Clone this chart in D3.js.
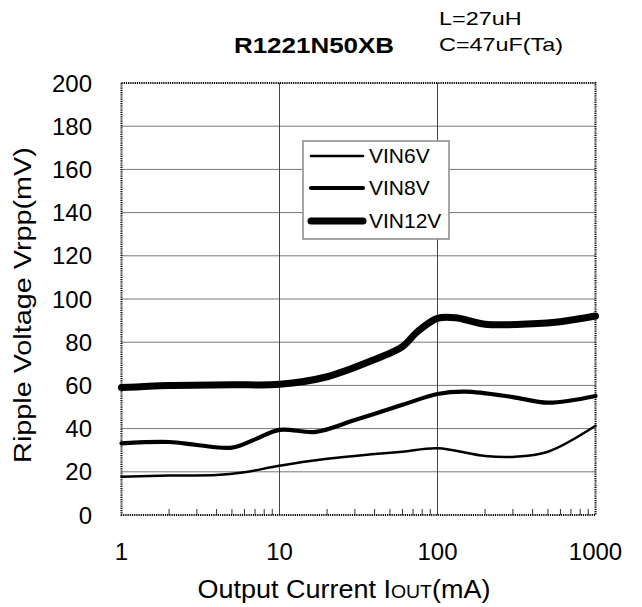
<!DOCTYPE html>
<html><head><meta charset="utf-8">
<script src="https://cdn.jsdelivr.net/npm/d3@7"></script>
<style>
html,body{margin:0;padding:0;background:#fff;}
svg{display:block;font-family:"Liberation Sans",Arial,sans-serif;}
</style></head>
<body><svg id="c" width="642" height="607"></svg>
<script>
// ---- data ----
const xTicks = [1, 10, 100, 1000];
const yTicks = [0, 20, 40, 60, 80, 100, 120, 140, 160, 180, 200];
const seriesNames = ["VIN6V", "VIN8V", "VIN12V"];
const vin6Current = [1, 2, 4, 6, 10, 20, 40, 60, 100, 200, 300, 500, 1000];
const vin6Ripple  = [17.7, 18.3, 18.5, 19.8, 22.8, 26, 28.2, 29.3, 30.9, 27.3, 26.9, 29.3, 41.3];
const vin8Current = [1, 2, 3, 5, 7, 10, 17, 30, 60, 100, 150, 300, 500, 1000];
const vin8Ripple  = [33.2, 33.8, 32.4, 31.2, 35, 39.4, 38.5, 44, 51, 56, 57.1, 54.6, 52, 55.1];
const vin12Current = [1, 2, 5, 10, 20, 40, 60, 75, 100, 130, 200, 400, 600, 1000];
const vin12Ripple  = [59, 60, 60.3, 60.5, 64, 72, 78, 85, 91, 91.3, 88.3, 88.5, 89.5, 92.1];
const title = "R1221N50XB";
const noteLines = ["L=27uH", "C=47uF(Ta)"];

// ---- layout ----
const svg = d3.select("#c");
const X0 = 121.5, X1 = 595.5, Y0 = 515, Y1 = 83;
const x = d3.scaleLog().domain([1, 1000]).range([X0, X1]);
const y = d3.scaleLinear().domain([0, 200]).range([Y0, Y1]);

// horizontal gridlines
svg.append("g").selectAll("line").data(yTicks.filter(d => d > 0 && d < 200)).join("line")
  .attr("x1", X0).attr("x2", X1).attr("y1", d => y(d)).attr("y2", d => y(d))
  .attr("stroke", "#777").attr("stroke-width", 1);
// vertical gridlines
svg.append("g").selectAll("line").data(xTicks.filter(d => d > 1 && d < 1000)).join("line")
  .attr("x1", d => x(d)).attr("x2", d => x(d)).attr("y1", Y1).attr("y2", Y0)
  .attr("stroke", "#444").attr("stroke-width", 1);

// minor ticks on bottom axis
const minor = [];
[1, 10, 100].forEach(dec => { for (let k = 2; k <= 9; k++) minor.push(dec * k); });
svg.append("g").selectAll("line").data(minor).join("line")
  .attr("x1", d => x(d)).attr("x2", d => x(d)).attr("y1", Y0).attr("y2", Y0 - 6)
  .attr("stroke", "#333").attr("stroke-width", 1);

// dotted frame
svg.append("rect").attr("x", X0).attr("y", Y1).attr("width", X1 - X0).attr("height", Y0 - Y1)
  .attr("fill", "none").attr("stroke", "#000").attr("stroke-width", 2).attr("stroke-dasharray", "1.2,1");

// y tick labels
svg.append("g").selectAll("text").data(yTicks).join("text")
  .attr("x", 92).attr("y", d => y(d)).attr("dy", "0.36em").attr("text-anchor", "end")
  .attr("font-size", 24).attr("fill", "#000").text(d => d);
// x tick labels
svg.append("g").selectAll("text").data(xTicks).join("text")
  .attr("x", d => x(d)).attr("y", 560).attr("text-anchor", "middle")
  .attr("font-size", 24).attr("fill", "#000").text(d => d);

// axis titles (source font is wider than Arial: stretch horizontally)
const xt = svg.append("text").attr("transform", "translate(344,598) scale(1.08,1)").attr("text-anchor", "middle")
  .attr("font-size", 25).attr("fill", "#000");
xt.append("tspan").text("Output Current I");
xt.append("tspan").attr("font-size", 18).text("OUT");
xt.append("tspan").text("(mA)");
svg.append("text").attr("transform", "translate(31,305) rotate(-90) scale(1.2,1)").attr("text-anchor", "middle")
  .attr("font-size", 24).attr("fill", "#000").text("Ripple Voltage Vrpp(mV)");

// title & notes
svg.append("text").attr("transform", "translate(314,53) scale(1.18,1)").attr("text-anchor", "middle")
  .attr("font-size", 22).attr("font-weight", "bold").attr("fill", "#000").text(title);
svg.append("g").selectAll("text").data(noteLines).join("text")
  .attr("transform", (d, i) => `translate(439,${25 + i * 26}) scale(1.3,1)`)
  .attr("font-size", 18).attr("fill", "#000").text(d => d);

// series
const widths = [2.5, 4.2, 7];
const series = [
  vin6Current.map((c, i) => [c, vin6Ripple[i]]),
  vin8Current.map((c, i) => [c, vin8Ripple[i]]),
  vin12Current.map((c, i) => [c, vin12Ripple[i]])
];
const line = d3.line().x(d => x(d[0])).y(d => y(d[1])).curve(d3.curveCatmullRom.alpha(0.5));
svg.append("g").selectAll("path").data(series).join("path")
  .attr("d", line).attr("fill", "none").attr("stroke", "#000")
  .attr("stroke-width", (d, i) => widths[i]).attr("stroke-linecap", "round").attr("stroke-linejoin", "round");

// legend
const lg = svg.append("g");
lg.append("rect").attr("x", 303).attr("y", 141).attr("width", 146).attr("height", 98)
  .attr("fill", "#fff").attr("stroke", "#888").attr("stroke-width", 1.5);
const rowY = [156, 188, 221];
seriesNames.forEach((n, i) => {
  lg.append("line").attr("x1", 311).attr("x2", 363).attr("y1", rowY[i]).attr("y2", rowY[i])
    .attr("stroke", "#000").attr("stroke-width", widths[i]).attr("stroke-linecap", "round");
  lg.append("text").attr("transform", `translate(369,${rowY[i]}) scale(1.05,1)`).attr("dy", "0.36em")
    .attr("font-size", 20).attr("fill", "#000").text(n);
});
</script></body></html>
